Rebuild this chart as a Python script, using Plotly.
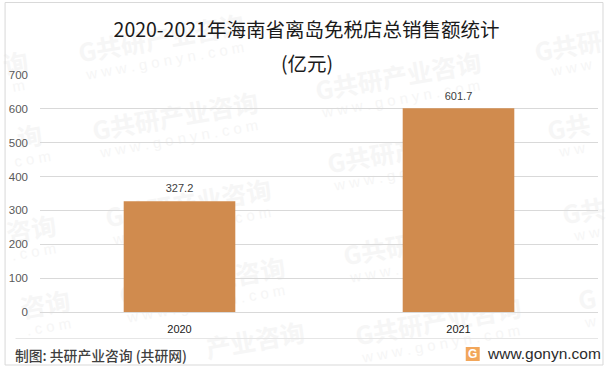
import plotly.graph_objects as go

W, H = 613, 369
L, R, T, B = 39.5, 598.5, 75, 312

categories = ["2020", "2021"]
sales = [327.2, 601.7]
y_ticks = [0, 100, 200, 300, 400, 500, 600, 700]
title_line1 = "2020-2021年海南省离岛免税店总销售额统计"
title_line2 = "(亿元)"
source_text = "制图: 共研产业咨询 (共研网)"
site_text = "www.gonyn.com"
WN = "G共研产业咨询"
WS = "w w w . g o n y n . c o m"
# watermark: brand text, site text, centre of the brand line in pixels
watermarks = [
    (WN, WS, 161, 37), (WN, WS, 175, 115), (WN, WS, 398, 75), (WN, WS, 410, 148),
    (WN, WS, 188, 202), (WN, WS, 202, 280), (WN, WS, 426, 240), (WN, WS, 438, 320),
    ("G共研", "w w w", 568, 45), ("G共", "w w", 569, 126),
    ("G共", "w w", 584, 210), ("G", "w", 587, 298),
    ("询", "m", 15, 62), ("询", "c o m", 29, 135),
    ("咨询", ". c o m", 30, 228), ("咨询", ". c o m", 45, 303),
    ("产业咨询", "", 255, 339),
]

FONT = "Noto Sans CJK SC"
px = lambda x: (x - L) / (R - L)
py = lambda y: (B - y) / (B - T)

fig = go.Figure()
fig.add_bar(x=categories, y=sales, width=0.4, marker=dict(color="#D08B4E", line_width=0))
fig.add_scatter(
    x=categories, y=sales, mode="markers+text", marker=dict(size=8, opacity=0),
    text=[f"{v:.1f}" for v in sales], textposition="top center", cliponaxis=False,
    textfont=dict(size=11, color="#404040", family="Liberation Sans"),
)

anns = []
for (name, site, x, y) in watermarks:
    anns.append(dict(x=px(x), y=py(y), text=name, textangle=-10,
                     font=dict(size=25, color="#F6F6F6", family=FONT, weight="bold")))
    if site:
        anns.append(dict(x=px(x + 3), y=py(y + 23), text=site, textangle=-10,
                         font=dict(size=15, color="#F6F6F6", family="Liberation Sans")))
n_watermark = len(anns)
anns += [
    dict(x=px(12), y=py(355), xanchor="left", text=source_text,
         font=dict(size=13.8, color="#404040", family=FONT, weight=500)),
    dict(x=px(306.5), y=py(62), text=title_line2, font=dict(size=19.5, color="#1A1A1A", family=FONT)),
    dict(x=px(485), y=py(353), xanchor="left", text=site_text,
         font=dict(size=15.5, color="#2B2B2B", family="Liberation Sans")),
    dict(x=px(473), y=py(354), text="G", font=dict(size=12, color="white", family="Liberation Sans", weight="bold")),
]
for a in anns:
    a.update(xref="paper", yref="paper", showarrow=False, yanchor="middle")
    a.setdefault("xanchor", "center")

def rect(x0, y0, x1, y1, **kw):
    return dict(type="rect", xref="paper", yref="paper", x0=px(x0), x1=px(x1), y0=py(y0), y1=py(y1), **kw)

shapes = [
    rect(4.5, 2.5, 603.5, 365, line=dict(color="#D9D9D9", width=1), layer="above"),
    dict(type="line", xref="paper", yref="paper", x0=px(15), x1=px(598.5), y0=py(338.5), y1=py(338.5),
         line=dict(color="#E6E6E6", width=1), layer="above"),
    rect(466, 347, 480, 361, fillcolor="#F2A65A", line_width=0),
]

fig.update_layout(
    width=W, height=H, margin=dict(l=L, r=W - R, t=T, b=H - B, pad=0, autoexpand=False),
    paper_bgcolor="white", plot_bgcolor="rgba(0,0,0,0)", showlegend=False,
    title=dict(text=title_line1, x=306.5 / W, xanchor="center", y=1 - 30 / H, yanchor="middle",
               font=dict(size=19.5, color="#1A1A1A", family=FONT)),
    xaxis=dict(type="category", range=[-0.5, 1.5], showline=True, linecolor="#D9D9D9", showgrid=False,
               ticks="", tickfont=dict(size=11, color="#1A1A1A", family="Liberation Sans"), ticklabelstandoff=7),
    yaxis=dict(range=[0, 700], tickvals=y_ticks, showgrid=True, gridcolor="#D9D9D9", gridwidth=1,
               zeroline=False, showline=False, ticks="",
               tickfont=dict(size=11.5, color="#595959", family="Liberation Sans"), ticklabelstandoff=11),
    annotations=anns, shapes=shapes,
)
post = """
document.documentElement.style.margin='0';document.body.style.margin='0';
var gd=document.getElementById('{plot_id}');
var svg=gd.querySelector('.main-svg');var cart=svg.querySelector('.cartesianlayer');
gd.querySelectorAll('.annotation').forEach(function(a){
  if(+a.getAttribute('data-index')<%d){svg.insertBefore(a,cart);}
});
""" % n_watermark
fig.write_html("out.html", config=dict(displayModeBar=False), post_script=post)
